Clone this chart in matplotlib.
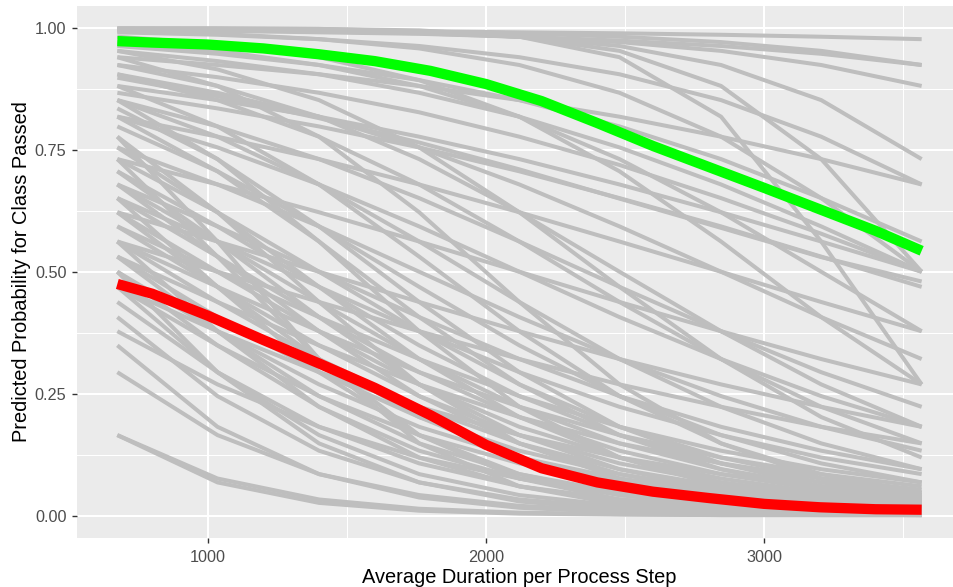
import numpy as np
import matplotlib
matplotlib.use("Agg")
import matplotlib.pyplot as plt
from matplotlib.ticker import MultipleLocator, FixedLocator

plt.rcParams["font.family"] = ["Liberation Sans", "DejaVu Sans"]

# =========================
# Data
# =========================
duration = [675, 1035, 1400, 1760, 2120, 2480, 2845, 3205, 3566]

# one row per subject, predicted probability at each duration
grey_lines = [
    [.997, .996, .995, .993, .991, .989, .986, .982, .977],
    [.996, .994, .991, .988, .982, .974, .963, .947, .924],
    [.998, .996, .993, .989, .982, .971, .953, .924, .881],
    [.998, .998, .996, .993, .989, .982, .971, .953, .924],
    [.999, .998, .996, .991, .982, .963, .924, .852, .731],
    [.991, .986, .977, .963, .940, .905, .852, .777, .679],
    [.999, .999, .998, .993, .982, .953, .881, .731, .500],
    [.999, .999, .998, .995, .982, .940, .818, .562, .269],
    [.963, .947, .924, .893, .852, .798, .731, .651, .562],
    [.953, .932, .905, .867, .818, .755, .679, .593, .500],
    [.924, .899, .867, .827, .777, .719, .651, .578, .500],
    [.924, .881, .818, .731, .622, .500, .378, .269, .182],
    [.905, .852, .777, .679, .562, .438, .321, .223, .148],
    [.881, .852, .818, .777, .731, .679, .622, .562, .500],
    [.881, .798, .679, .531, .378, .245, .148, .085, .047],
    [.852, .798, .731, .651, .562, .469, .378, .294, .223],
    [.852, .731, .562, .378, .223, .119, .060, .029, .014],
    [.852, .777, .679, .562, .438, .321, .223, .148, .095],
    [.818, .755, .679, .593, .500, .407, .321, .245, .182],
    [.818, .706, .562, .407, .269, .165, .095, .053, .029],
    [.818, .777, .731, .679, .622, .562, .500, .438, .378],
    [.777, .622, .438, .269, .148, .076, .037, .018, .009],
    [.731, .622, .500, .378, .269, .182, .119, .076, .047],
    [.731, .679, .622, .562, .500, .438, .378, .321, .269],
    [.731, .531, .321, .165, .076, .033, .014, .006, .003],
    [.706, .562, .407, .269, .165, .095, .053, .029, .016],
    [.679, .593, .500, .407, .321, .245, .182, .133, .095],
    [.679, .562, .438, .321, .223, .148, .095, .060, .037],
    [.651, .531, .407, .294, .202, .133, .085, .053, .033],
    [.651, .469, .294, .165, .085, .042, .020, .010, .005],
    [.622, .562, .500, .438, .378, .321, .269, .223, .182],
    [.622, .469, .321, .202, .119, .068, .037, .020, .011],
    [.593, .469, .349, .245, .165, .107, .068, .042, .026],
    [.593, .500, .407, .321, .245, .182, .133, .095, .068],
    [.562, .438, .321, .223, .148, .095, .060, .037, .023],
    [.562, .378, .223, .119, .060, .029, .014, .007, .003],
    [.562, .500, .438, .378, .321, .269, .223, .182, .148],
    [.531, .378, .245, .148, .085, .047, .026, .014, .008],
    [.531, .438, .349, .269, .202, .148, .107, .076, .053],
    [.500, .378, .269, .182, .119, .076, .047, .029, .018],
    [.500, .294, .148, .068, .029, .012, .005, .002, .001],
    [.469, .349, .245, .165, .107, .068, .042, .026, .016],
    [.469, .294, .165, .085, .042, .020, .010, .005, .002],
    [.438, .294, .182, .107, .060, .033, .018, .010, .005],
    [.407, .245, .133, .068, .033, .016, .008, .004, .002],
    [.378, .269, .182, .119, .076, .047, .029, .018, .011],
    [.349, .182, .085, .037, .016, .007, .003, .001, .001],
    [.294, .165, .085, .042, .020, .010, .005, .002, .001],
    [.165, .076, .033, .014, .006, .003, .001, .001, .001],
    [.165, .068, .026, .010, .004, .002, .001, .001, .001],
    [.835, .731, .593, .438, .294, .182, .107, .060, .033],
    [.798, .706, .593, .469, .349, .245, .165, .107, .068],
    [.755, .622, .469, .321, .202, .119, .068, .037, .020],
    [.755, .679, .593, .500, .407, .321, .245, .182, .133],
    [.706, .593, .469, .349, .245, .165, .107, .068, .042],
    [.679, .531, .378, .245, .148, .085, .047, .026, .014],
    [.651, .562, .469, .378, .294, .223, .165, .119, .085],
    [.622, .500, .378, .269, .182, .119, .076, .047, .029],
    [.562, .469, .378, .294, .223, .165, .119, .085, .060],
    [.531, .407, .294, .202, .133, .085, .053, .033, .020],
    [.500, .349, .223, .133, .076, .042, .023, .012, .007],
    [.469, .378, .294, .223, .165, .119, .085, .060, .042],
    [.777, .562, .321, .148, .060, .023, .009, .003, .001],
    [.940, .881, .777, .622, .438, .269, .148, .076, .037],
    [.953, .915, .852, .755, .622, .469, .321, .202, .119],
    [.982, .967, .940, .893, .818, .706, .562, .407, .269],
    [.993, .988, .977, .958, .924, .867, .777, .651, .500],
    [.905, .867, .818, .755, .679, .593, .500, .407, .321],
    [.971, .953, .924, .881, .818, .731, .622, .500, .378],
    [.867, .835, .798, .755, .706, .651, .593, .531, .469],
    [.940, .924, .905, .881, .852, .818, .777, .731, .679],
    [.898, .860, .815, .765, .710, .650, .590, .530, .480],
]

# highlighted curves, read at a finer step
duration_fine = [675, 800, 1000, 1200, 1400, 1600, 1800, 2000, 2200,
                 2400, 2600, 2800, 3000, 3200, 3400, 3566]
green_line = [.973, .970, .966, .958, .946, .932, .912, .885, .850,
              .805, .758, .715, .672, .628, .584, .543]
red_line = [.475, .455, .410, .360, .312, .262, .206, .145, .097,
            .068, .049, .036, .024, .017, .013, .012]

x_ticks = [1000, 2000, 3000]
y_ticks = [0.0, 0.25, 0.5, 0.75, 1.0]
y_tick_labels = ["0.00", "0.25", "0.50", "0.75", "1.00"]

# =========================
# Figure
# =========================
W, H = 954, 587
fig = plt.figure(figsize=(W / 100, H / 100), dpi=100)
ax = fig.add_axes([77 / W, 49 / H, (962 - 77) / W, 532 / H])
ax.set_facecolor("#EBEBEB")

for row in grey_lines:
    ax.plot(duration, row, color="#BEBEBE", lw=2.9, solid_capstyle="butt",
            solid_joinstyle="round", zorder=2)

ax.plot(duration_fine, green_line, color="#00FF00", lw=7.4,
        solid_capstyle="butt", solid_joinstyle="round", zorder=3)
ax.plot(duration_fine, red_line, color="#FF0000", lw=7.4,
        solid_capstyle="butt", solid_joinstyle="round", zorder=3)

ax.set_xlim(530, 3711)
ax.set_ylim(-0.046, 1.045)

ax.xaxis.set_major_locator(FixedLocator(x_ticks))
ax.xaxis.set_minor_locator(FixedLocator([1500, 2500, 3500]))
ax.yaxis.set_major_locator(FixedLocator(y_ticks))
ax.yaxis.set_minor_locator(MultipleLocator(0.125))
ax.set_yticklabels(y_tick_labels)

ax.grid(which="major", color="white", lw=1.5, zorder=0)
ax.grid(which="minor", color="white", lw=0.75, zorder=0)
ax.set_axisbelow(True)

for s in ax.spines.values():
    s.set_visible(False)

ax.tick_params(which="major", length=3.6, width=1, color="#333333",
               labelcolor="#4D4D4D", labelsize=11.7, pad=4)
ax.tick_params(axis="x", which="major", pad=5)
ax.tick_params(which="minor", length=0)

ax.set_xlabel("Average Duration per Process Step", fontsize=14.4,
              color="black", labelpad=2)
ax.set_ylabel("Predicted Probability for Class Passed", fontsize=14.4,
              color="black", labelpad=3)

fig.savefig("out.png", dpi=100)
